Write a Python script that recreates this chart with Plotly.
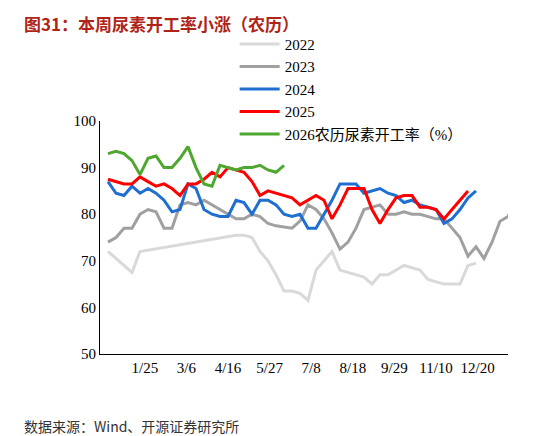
import plotly.graph_objects as go

s2022 = [72,70.5,69,67.5,72,72.3,72.6,72.9,73.2,73.5,73.8,74,74.3,74.6,74.9,75.2,75.5,75.5,75,72,70,67,63.5,63.5,63,61.5,68,70,72,68,67.5,67,66.5,65,67,67,68,69,68.5,68,66,65.5,65,65,65,69,69.5]
s2023 = [74,75,77,77,80,81,80.5,77,77,82,82.5,82,83,82,81,80,79,79,80,79.5,78,77.5,77.2,77,78.5,82,81,79,76,72.5,74,77,81,81.5,82,80,80,80.5,80,80,79.5,79,79,77,75,71,73,70.5,74,78.5,79.5,83]
s2024 = [87,84.5,84,86,84.5,85.5,84.5,83,80.5,81,86.5,85.5,81,80,79.5,79.5,83,82.5,80,83,83,82,80,79.5,80,77,77,80,83,86.5,86.5,86.5,84.5,85,85.5,84.5,84,82.5,83,82,81.5,81,78,79,81,83.5,85]
s2025 = [87.5,87,86.5,86.5,88,87,86,86.5,85.5,84,86.5,86.5,87.5,89,88,90,89.5,89,87,84,85,84.5,84,83.5,82,83,84,83,79,82,85.5,85.5,85.5,81,78,81,83.5,84,84,81.5,81.5,81,79,81,83,85]
s2026 = [93,93.5,93,91.5,88.5,92,92.5,90,90,92,94.5,90,86.5,86,90.5,90,89.5,90,90,90.5,89.5,89,90.5]
tick_labels = ["1/25","3/6","4/16","5/27","7/8","8/18","9/29","11/10","12/20"]

series = [("2022", s2022, "#d9d9d9"), ("2023", s2023, "#a0a0a0"),
          ("2024", s2024, "#1f6fd1"), ("2025", s2025, "#ff0000"),
          ("2026农历尿素开工率（%）", s2026, "#4ea72e")]

fig = go.Figure()
for name, ys, c in series:
    fig.add_trace(go.Scatter(x=list(range(len(ys))), y=ys, name=name, mode="lines",
                             line=dict(color=c, width=3)))

fig.update_layout(
    width=546, height=436, margin=dict(l=92, r=46, t=113, b=90, autoexpand=False),
    plot_bgcolor="white", paper_bgcolor="white",
    font=dict(family="Liberation Serif, Noto Sans CJK SC", size=15, color="black"),
    legend=dict(x=0.33, y=1.40, xanchor="left", yanchor="top", bgcolor="rgba(0,0,0,0)",
                font=dict(size=15), tracegroupgap=0, itemwidth=40),
    showlegend=True,
)
fig.update_xaxes(range=[-1, 50], tickvals=[4.6 + 5.2*i for i in range(9)], ticktext=tick_labels,
                 showline=True, linecolor="black", showgrid=False, ticks="", zeroline=False)
fig.update_yaxes(range=[50, 100], dtick=10, showline=True, linecolor="black", showgrid=False,
                 ticks="", zeroline=False)
fig.add_annotation(xref="paper", yref="paper", x=-0.19, y=1.42, xanchor="left", yanchor="middle",
                   text="<b>图31：本周尿素开工率小涨（农历）</b>", showarrow=False,
                   font=dict(size=17, color="#b02418", family="Noto Sans CJK SC"))
fig.add_annotation(xref="paper", yref="paper", x=-0.19, y=-0.31, xanchor="left", yanchor="middle",
                   text="数据来源：Wind、开源证券研究所", showarrow=False,
                   font=dict(size=14, color="#333", family="Noto Sans CJK SC"))
fig.write_html("out.html")
